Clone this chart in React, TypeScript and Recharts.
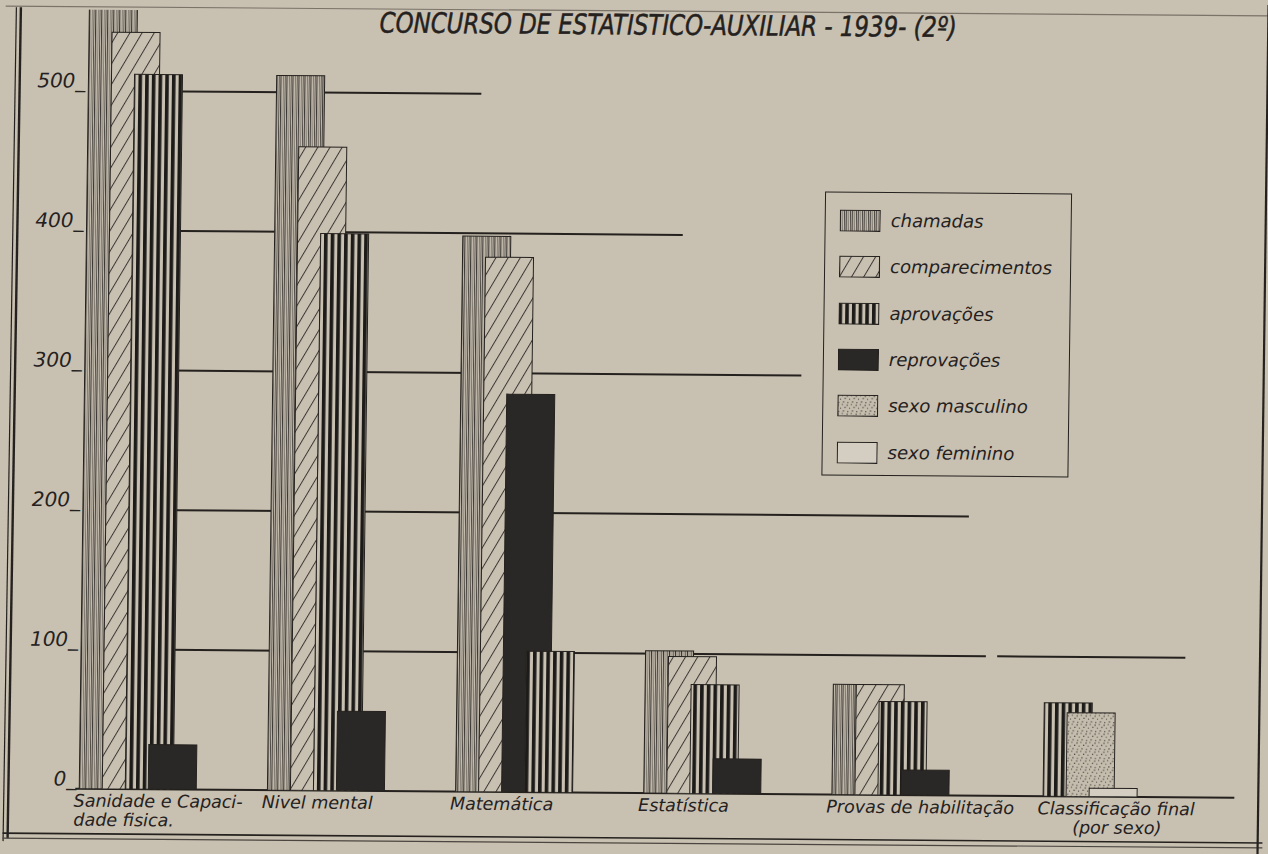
import React from "react";
import { Bar, BarChart, Cell, Legend, ReferenceLine, XAxis, YAxis } from "recharts";

// Concurso de Estatístico-Auxiliar 1939 (2º)
const categories = [
  "Sanidade e Capacidade física",
  "Nivel mental",
  "Matemática",
  "Estatística",
  "Provas de habilitação",
  "Classificação final (por sexo)",
];

const tickLines = [
  ["Sanidade e Capaci-", "dade fisica."],
  ["Nivel mental"],
  ["Matemática"],
  ["Estatística"],
  ["Provas de habilitação"],
  ["Classificação final", "(por sexo)"],
];

const chamadas = [575, 512, 398, 102, 79, null];
const comparecimentos = [542, 461, 383, 98, 79, null];
const aprovacoes = [512, 399, 101, 78, 67, 67];
const reprovacoes = [32, 57, 285, 25, 18, null];
const sexoMasculino = [null, null, null, null, null, 60];
const sexoFeminino = [null, null, null, null, null, 6];

const yTicks = [0, 100, 200, 300, 400, 500];

// horizontal guide lines of the original; from/to counted in category steps
// from the centre of the first group
const guideLines = [
  { y: 500, from: 0, to: 1.78 },
  { y: 400, from: 0, to: 2.86 },
  { y: 300, from: 0, to: 3.5 },
  { y: 200, from: 0, to: 4.4 },
  { y: 100, from: 0, to: 4.5 },
  { y: 100, from: 4.56, to: 5.56 },
  { y: 0, from: -0.33, to: 5.83 },
];

const legendItems = [
  { key: "chamadas", label: "chamadas" },
  { key: "comparecimentos", label: "comparecimentos" },
  { key: "aprovacoes", label: "aprovações" },
  { key: "reprovacoes", label: "reprovações" },
  { key: "sexoMasculino", label: "sexo masculino" },
  { key: "sexoFeminino", label: "sexo feminino" },
];

const seriesValues: Record<string, (number | null)[]> = {
  chamadas,
  comparecimentos,
  aprovacoes,
  reprovacoes,
  sexoMasculino,
  sexoFeminino,
};

// which series sits in which of the 4 overlapping bar slots, per category
const DEFAULT_ORDER = ["chamadas", "comparecimentos", "aprovacoes", "reprovacoes"];
const slotOrder: (string | null)[][] = [
  DEFAULT_ORDER,
  DEFAULT_ORDER,
  ["chamadas", "comparecimentos", "reprovacoes", "aprovacoes"],
  DEFAULT_ORDER,
  DEFAULT_ORDER,
  [null, "aprovacoes", "sexoMasculino", "sexoFeminino"],
];

const data = categories.map((name, i) => {
  const row: Record<string, any> = { name };
  slotOrder[i].forEach((key, s) => {
    row[`s${s}`] = key ? seriesValues[key][i] : null;
    row[`k${s}`] = key;
  });
  return row;
});

const PAPER = "#c8c0b1";
const INK = "#24211e";
const FONT = "'DejaVu Sans', Verdana, sans-serif";
const BAR = 48;
const GAP = -25;
const STEP = BAR + GAP;

const fills: Record<string, string> = {
  chamadas: "url(#pat-chamadas)",
  comparecimentos: "url(#pat-comparecimentos)",
  aprovacoes: "url(#pat-aprovacoes)",
  reprovacoes: "#2a2826",
  sexoMasculino: "url(#pat-sexoMasculino)",
  sexoFeminino: "#d3cdc2",
};

const SECOND_LINE_INDENT: Record<string, number> = { "(por sexo)": 35 };

function Patterns() {
  return (
    <defs>
      <pattern id="pat-chamadas" patternUnits="userSpaceOnUse" width="6" height="10">
        <rect width="6" height="10" fill={PAPER} />
        <rect x="0" width="1.1" height="10" fill="#3b3733" />
        <rect x="2.5" width="0.7" height="10" fill="#66615a" />
        <rect x="4.3" width="0.9" height="10" fill="#4d4943" />
      </pattern>
      <pattern
        id="pat-comparecimentos"
        patternUnits="userSpaceOnUse"
        width="10.5"
        height="10"
        patternTransform="rotate(30)"
      >
        <rect x="-1" y="-1" width="13" height="12" fill={PAPER} />
        <rect x="0" width="1" height="10" fill="#3b3733" />
      </pattern>
      <pattern id="pat-aprovacoes" patternUnits="userSpaceOnUse" width="6.7" height="10">
        <rect width="6.7" height="10" fill={PAPER} />
        <rect x="0" width="3.6" height="10" fill="#1d1b19" />
      </pattern>
      <pattern id="pat-sexoMasculino" patternUnits="userSpaceOnUse" width="9" height="9">
        <rect width="9" height="9" fill="#c4bcad" />
        <circle cx="1" cy="1.5" r="0.7" fill="#3d3934" />
        <circle cx="5" cy="0.8" r="0.6" fill="#3d3934" />
        <circle cx="7.8" cy="3.8" r="0.7" fill="#3d3934" />
        <circle cx="3.2" cy="4.6" r="0.6" fill="#3d3934" />
        <circle cx="6.2" cy="7.2" r="0.7" fill="#3d3934" />
        <circle cx="1.6" cy="7.9" r="0.6" fill="#3d3934" />
      </pattern>
    </defs>
  );
}

function XTick(props: any) {
  const { x, y, payload } = props;
  const idx = categories.indexOf(payload.value);
  const lines = tickLines[idx] || [];
  const first = slotOrder[idx].findIndex((k) => k !== null);
  const left = x - (BAR + 3 * STEP) / 2 + first * STEP - 5;
  return (
    <g>
      {lines.map((l, j) => (
        <text
          key={j}
          x={left + (j > 0 ? SECOND_LINE_INDENT[l] || 0 : 0)}
          y={y + 10 + j * 19}
          fontFamily={FONT}
          fontStyle="italic"
          fontSize={17.5}
          fill={INK}
        >
          {l}
        </text>
      ))}
    </g>
  );
}

function YTick(props: any) {
  const { y, payload } = props;
  return (
    <text x={81} y={y - 3} textAnchor="end" fontFamily={FONT} fontStyle="italic" fontSize={20} fill={INK}>
      {`${payload.value}_`}
    </text>
  );
}

// draws a guide line between fractional category steps, using the
// segment the library placed from the first to the last group centre
function guideShape(g: { from: number; to: number }) {
  return (p: any) => {
    const unit = (p.x2 - p.x1) / (categories.length - 1);
    return (
      <line
        x1={p.x1 + g.from * unit}
        x2={p.x1 + g.to * unit}
        y1={p.y1}
        y2={p.y2}
        stroke={INK}
        strokeWidth={2}
      />
    );
  };
}

function LegendBox() {
  return (
    <div
      style={{
        position: "relative",
        width: 247,
        height: 284,
        border: `1.6px solid ${INK}`,
        boxSizing: "border-box",
        fontFamily: FONT,
        fontStyle: "italic",
        fontSize: 18,
        color: INK,
      }}
    >
      {legendItems.map((it, i) => (
        <div
          key={it.key}
          style={{ position: "absolute", left: 14, top: 17 + i * 46.3, height: 22, display: "flex", alignItems: "center" }}
        >
          <svg width={41} height={22} style={{ display: "block" }}>
            <rect x={0.6} y={0.6} width={39.8} height={20.8} fill={fills[it.key]} stroke={INK} strokeWidth={1.2} />
          </svg>
          <span style={{ marginLeft: 10, whiteSpace: "nowrap", lineHeight: "22px" }}>{it.label}</span>
        </div>
      ))}
    </div>
  );
}

export default function App() {
  return (
    <div
      style={{
        position: "absolute",
        left: 0,
        top: 0,
        width: 1268,
        height: 854,
        background: PAPER,
        overflow: "hidden",
      }}
    >
      <div
        style={{
          position: "absolute",
          left: 0,
          top: 0,
          width: 1268,
          height: 854,
          transform: "matrix(1, 0.0078, -0.013, 1, 0, 0)",
          transformOrigin: "634px 427px",
        }}
      >
        <BarChart
          width={1268}
          height={854}
          data={data}
          margin={{ top: 14, right: 28, bottom: 11, left: 0 }}
          barSize={BAR}
          barGap={GAP}
        >
          <Patterns />
          <XAxis
            dataKey="name"
            type="category"
            interval={0}
            height={50}
            padding={{ left: 0, right: 63 }}
            axisLine={false}
            tickLine={false}
            tick={<XTick />}
          />
          <YAxis
            domain={[0, 558]}
            ticks={yTicks}
            allowDataOverflow
            width={48}
            axisLine={false}
            tickLine={false}
            tick={<YTick />}
          />
          {guideLines.map((g, i) => (
            <ReferenceLine
              key={i}
              segment={[
                { x: categories[0], y: g.y },
                { x: categories[categories.length - 1], y: g.y },
              ]}
              stroke={INK}
              strokeWidth={2}
              shape={guideShape(g)}
              zIndex={0}
            />
          ))}
          {[0, 1, 2, 3].map((s) => (
            <Bar key={s} dataKey={`s${s}`} isAnimationActive={false} stroke={INK} strokeWidth={1}>
              {data.map((row, i) => (
                <Cell key={i} fill={row[`k${s}`] ? fills[row[`k${s}`]] : "none"} />
              ))}
            </Bar>
          ))}
          <Legend
            layout="horizontal"
            verticalAlign="middle"
            align="center"
            content={() => <LegendBox />}
            wrapperStyle={{ position: "absolute", left: 822, top: 190, width: 247, height: 284 }}
          />
        </BarChart>
        <svg
          width={1268}
          height={854}
          style={{ position: "absolute", left: 0, top: 0, pointerEvents: "none" }}
        >
          <line x1={0} y1={11} x2={1268} y2={11} stroke="#7a7368" strokeWidth={1.2} />
          <line x1={15.5} y1={12} x2={13} y2={843} stroke={INK} strokeWidth={2.4} />
          <line x1={11} y1={12} x2={8.5} y2={846} stroke={INK} strokeWidth={1.2} />
          <line x1={8} y1={838} x2={1268} y2={838} stroke={INK} strokeWidth={1.6} />
          <line x1={8} y1={843} x2={1268} y2={843} stroke="#4a453f" strokeWidth={1.2} />
          <line x1={1263} y1={0} x2={1263} y2={854} stroke={INK} strokeWidth={2.2} />
          <text
            x={663}
            y={34.5}
            textAnchor="middle"
            textLength={577}
            lengthAdjust="spacingAndGlyphs"
            fontFamily={FONT}
            fontStyle="italic"
            fontSize={28}
            fill={INK}
            stroke={INK}
            strokeWidth={0.5}
          >
            CONCURSO DE ESTATISTICO-AUXILIAR - 1939- (2º)
          </text>
        </svg>
      </div>
    </div>
  );
}
